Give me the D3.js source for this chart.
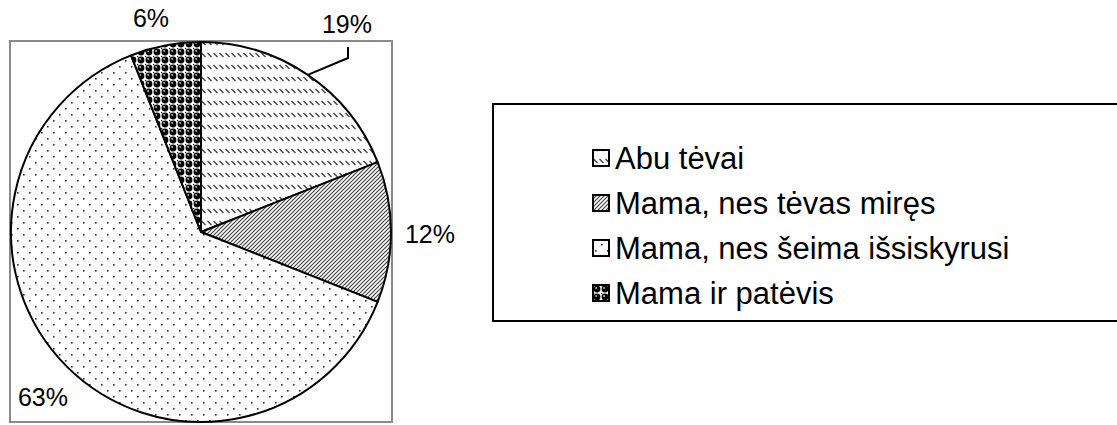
<!doctype html>
<html lang="lt">
<head>
<meta charset="utf-8">
<title>Pie</title>
<script src="https://cdn.jsdelivr.net/npm/d3@7"></script>
<style>
  body { margin: 0; background: #fff; }
  svg text { font-family: "Liberation Sans", Arial, sans-serif; fill: #000; }
</style>
</head>
<body>
<svg id="chart" width="1117" height="425"></svg>
<script>
// data
var categories = ["Abu tėvai", "Mama, nes tėvas miręs", "Mama, nes šeima išsiskyrusi", "Mama ir patėvis"];
var values = [19, 12, 63, 6];
var patternIds = ["pDash", "pDiag", "pDots", "pBalls"];

var svg = d3.select("#chart");
var defs = svg.append("defs");

// dashed backslash rows
var p1 = defs.append("pattern").attr("id", "pDash").attr("patternUnits", "userSpaceOnUse")
  .attr("width", 6).attr("height", 12);
p1.append("rect").attr("width", 6).attr("height", 12).attr("fill", "#fff");
p1.append("line").attr("x1", 0.5).attr("y1", 1).attr("x2", 4.5).attr("y2", 5)
  .attr("stroke", "#444").attr("stroke-width", 1.4);

// dense forward diagonal
var p2 = defs.append("pattern").attr("id", "pDiag").attr("patternUnits", "userSpaceOnUse")
  .attr("width", 4).attr("height", 4);
p2.append("rect").attr("width", 4).attr("height", 4).attr("fill", "#fff");
p2.append("path").attr("d", "M-1,1 L1,-1 M0,4 L4,0 M3,5 L5,3")
  .attr("stroke", "#444").attr("stroke-width", 1.2);

// sparse staggered dots
var p3 = defs.append("pattern").attr("id", "pDots").attr("patternUnits", "userSpaceOnUse")
  .attr("width", 12).attr("height", 12);
p3.append("rect").attr("width", 12).attr("height", 12).attr("fill", "#fff");
p3.append("rect").attr("x", 2).attr("y", 2).attr("width", 1.6).attr("height", 1.6).attr("fill", "#333");
p3.append("rect").attr("x", 8).attr("y", 8).attr("width", 1.6).attr("height", 1.6).attr("fill", "#333");

// black balls on white grid
var p4 = defs.append("pattern").attr("id", "pBalls").attr("patternUnits", "userSpaceOnUse")
  .attr("width", 8).attr("height", 8);
p4.append("rect").attr("width", 8).attr("height", 8).attr("fill", "#fff");
p4.append("circle").attr("cx", 4).attr("cy", 4).attr("r", 3.4).attr("fill", "#000");
p4.append("circle").attr("cx", 3.1).attr("cy", 3.1).attr("r", 1).attr("fill", "#bbb");
p4.append("rect").attr("x", 0).attr("y", 0).attr("width", 1.2).attr("height", 1.2).attr("fill", "#000");

// plot frame
svg.append("rect").attr("x", 10).attr("y", 41).attr("width", 382).attr("height", 381)
  .attr("fill", "none").attr("stroke", "#8a8a8a").attr("stroke-width", 2);

var cx = 201, cy = 232, r = 190;
var pie = d3.pie().sort(null).value(function (d) { return d; });
var arcs = pie(values);
var arc = d3.arc().innerRadius(0).outerRadius(r);

var g = svg.append("g").attr("transform", "translate(" + cx + "," + cy + ")");
g.selectAll("path.slice")
  .data(arcs)
  .enter().append("path")
  .attr("class", "slice")
  .attr("d", arc)
  .attr("fill", function (d, i) { return "url(#" + patternIds[i] + ")"; })
  .attr("stroke", "#000")
  .attr("stroke-width", 2)
  .attr("stroke-linejoin", "round");

// percent labels (positions chosen like the original)
var labelPos = [[347, 33], [430, 243], [43, 406], [151, 27]];
svg.selectAll("text.pct")
  .data(arcs)
  .enter().append("text")
  .attr("class", "pct")
  .attr("x", function (d, i) { return labelPos[i][0]; })
  .attr("y", function (d, i) { return labelPos[i][1]; })
  .attr("text-anchor", "middle")
  .attr("font-size", 25)
  .text(function (d) { return d.data + "%"; });

// leader line for first slice, ends on the arc at the slice's mid angle
var mid0 = (arcs[0].startAngle + arcs[0].endAngle) / 2;
var edge = [cx + Math.sin(mid0) * r, cy - Math.cos(mid0) * r];
svg.append("path")
  .attr("d", "M348,47 L348,58 L" + edge[0] + "," + edge[1])
  .attr("fill", "none").attr("stroke", "#000").attr("stroke-width", 2);

// legend
var lg = svg.append("g");
lg.append("rect").attr("x", 493).attr("y", 104).attr("width", 640).attr("height", 217)
  .attr("fill", "#fff").attr("stroke", "#000").attr("stroke-width", 2);

var rowY = d3.scalePoint().domain(categories).range([158, 293]);
var item = lg.selectAll("g.item")
  .data(categories)
  .enter().append("g")
  .attr("class", "item")
  .attr("transform", function (d) { return "translate(593," + rowY(d) + ")"; });
item.append("rect").attr("x", 0).attr("y", -8).attr("width", 16).attr("height", 16)
  .attr("fill", function (d, i) { return "url(#" + patternIds[i] + ")"; })
  .attr("stroke", "#000").attr("stroke-width", 2);
item.append("text").attr("x", 22).attr("y", 11)
  .attr("font-size", 31)
  .text(function (d) { return d; });
</script>
</body>
</html>
